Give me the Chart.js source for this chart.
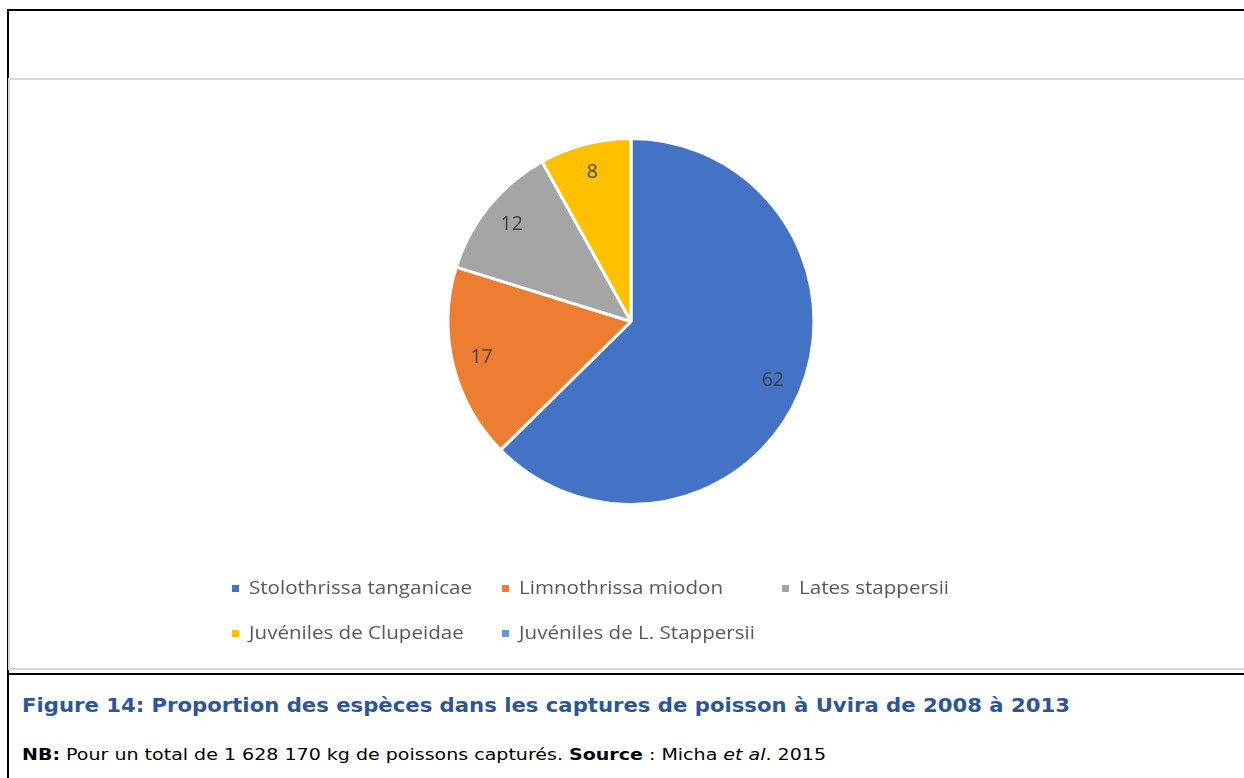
<!DOCTYPE html>
<html>
<head>
<meta charset="utf-8">
<script src="https://cdn.jsdelivr.net/npm/chart.js@4"></script>
<style>
  html, body { margin:0; padding:0; background:#fff; width:1244px; height:778px; overflow:hidden; }
  #frame { position:absolute; left:7px; top:9px; width:1260px; height:662px; border:2px solid #000; box-sizing:content-box; }
  #lower { position:absolute; left:7px; top:673px; width:2px; height:120px; background:#000; }
  #plot { position:absolute; left:8px; top:78px; width:1260px; height:588px; border:2px solid #d9d9d9; border-right:none; background:#fff; }
  #cv { position:absolute; left:0; top:0; }
  .txt { position:absolute; white-space:nowrap; line-height:1; font-family:"DejaVu Sans", sans-serif; transform-origin:0 0; }
  #caption { left:22px; top:696px; font-size:19.5px; font-weight:700; color:#2F5597; }
  #nb { left:22px; top:747px; font-size:16.5px; color:#000; }
</style>
</head>
<body>
<div id="frame"></div>
<div id="lower"></div>
<div id="plot"><canvas id="cv" width="1234" height="588"></canvas></div>
<div id="caption" class="txt" data-w="1048">Figure 14: Proportion des espèces dans les captures de poisson à Uvira de 2008 à 2013</div>
<div id="nb" class="txt" data-w="804"><b>NB:</b> Pour un total de 1 628 170 kg de poissons capturés. <b>Source</b> : Micha <i>et al</i>. 2015</div>
<script>
const categories = ["Stolothrissa tanganicae", "Limnothrissa miodon", "Lates stappersii", "Juvéniles de Clupeidae", "Juvéniles de L. Stappersii"];
const values = [62, 17, 12, 8, 0];
const colors = ["#4472C4", "#ED7D31", "#A5A5A5", "#FFC000", "#5B9BD5"];

// fit HTML text widths with a horizontal scale
document.querySelectorAll('.txt').forEach(el => {
  const target = +el.dataset.w;
  const w = el.getBoundingClientRect().width;
  el.style.transform = 'scaleX(' + (target / w) + ')';
});

const labelPlugin = {
  id: 'sliceLabels',
  afterDatasetsDraw(chart) {
    const ctx = chart.ctx;
    const meta = chart.getDatasetMeta(0);
    ctx.save();
    ctx.font = '19.5px "Open Sans", sans-serif';
    ctx.fillStyle = '#404040';
    ctx.textAlign = 'center';
    ctx.textBaseline = 'middle';
    meta.data.forEach((arc, i) => {
      const v = chart.data.datasets[0].data[i];
      if (!v) return;
      const p = arc.getProps(['x','y','startAngle','endAngle','outerRadius'], true);
      const mid = (p.startAngle + p.endAngle) / 2;
      const r = p.outerRadius * 0.84;
      ctx.fillText(String(v), p.x + Math.cos(mid) * r, p.y + Math.sin(mid) * r);
    });
    ctx.restore();
  }
};

const legendPlugin = {
  id: 'gridLegend',
  afterDraw(chart) {
    const ctx = chart.ctx;
    const ds = chart.data.datasets[0];
    const colX = [222, 492, 772];
    const rowY = [509, 554];
    ctx.save();
    ctx.font = '19px "Open Sans", sans-serif';
    ctx.textBaseline = 'middle';
    const sx = 223 / ctx.measureText(chart.data.labels[0]).width;
    chart.data.labels.forEach((lab, i) => {
      const c = i % 3, r = Math.floor(i / 3);
      const x = colX[c], y = rowY[r];
      ctx.fillStyle = ds.backgroundColor[i];
      ctx.fillRect(x, y - 4, 7, 7);
      ctx.fillStyle = '#595959';
      ctx.save();
      ctx.translate(x + 17, y);
      ctx.scale(sx, 1);
      ctx.fillText(lab, 0, 0);
      ctx.restore();
    });
    ctx.restore();
  }
};

new Chart(document.getElementById('cv'), {
  type: 'pie',
  data: {
    labels: categories,
    datasets: [{
      data: values,
      backgroundColor: colors,
      borderColor: '#ffffff',
      borderWidth: 3
    }]
  },
  options: {
    responsive: false,
    animation: false,
    layout: { padding: { left: 8, right: 0, top: 57, bottom: 162 } },
    plugins: { legend: { display: false }, tooltip: { enabled: false } }
  },
  plugins: [labelPlugin, legendPlugin]
});
</script>
</body>
</html>
